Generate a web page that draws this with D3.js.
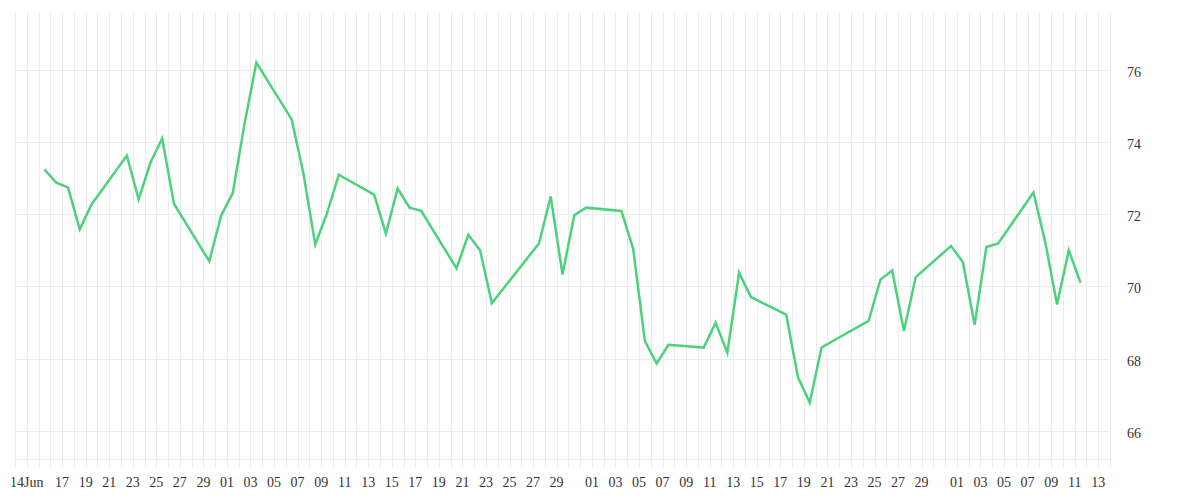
<!DOCTYPE html>
<html>
<head>
<meta charset="utf-8">
<script src="https://cdn.jsdelivr.net/npm/d3@7"></script>
<style>
  html, body { margin: 0; padding: 0; background: #fff; }
  svg { display: block; }
  text { font-family: "Liberation Serif", "Times New Roman", serif; font-size: 14px; fill: #333; }
</style>
</head>
<body>
<svg id="chart" width="1200" height="500"></svg>
<script>
// ---- data ----
const dates = [
  "2020-06-15","2020-06-16","2020-06-17","2020-06-18","2020-06-19",
  "2020-06-22","2020-06-23","2020-06-24","2020-06-25","2020-06-26",
  "2020-06-29","2020-06-30","2020-07-01","2020-07-02","2020-07-03",
  "2020-07-06","2020-07-07","2020-07-08","2020-07-09","2020-07-10",
  "2020-07-13","2020-07-14","2020-07-15","2020-07-16","2020-07-17",
  "2020-07-20","2020-07-21","2020-07-22","2020-07-23","2020-07-24",
  "2020-07-27","2020-07-28","2020-07-29","2020-07-30","2020-07-31",
  "2020-08-03","2020-08-04","2020-08-05","2020-08-06","2020-08-07",
  "2020-08-10","2020-08-11","2020-08-12","2020-08-13","2020-08-14",
  "2020-08-17","2020-08-18","2020-08-19","2020-08-20","2020-08-21",
  "2020-08-24","2020-08-25","2020-08-26","2020-08-27","2020-08-28",
  "2020-08-31","2020-09-01","2020-09-02","2020-09-03","2020-09-04",
  "2020-09-07","2020-09-08","2020-09-09","2020-09-10","2020-09-11"
];
const values = [
  73.24, 72.87, 72.74, 71.58, 72.27,
  73.62, 72.41, 73.42, 74.09, 72.29,
  70.70, 71.95, 72.59, 74.51, 76.19,
  74.62, 73.12, 71.16, 72.02, 73.09,
  72.54, 71.46, 72.71, 72.18, 72.09,
  70.50, 71.43, 71.00, 69.54, 69.95,
  71.19, 72.49, 70.33, 71.97, 72.18,
  72.09, 71.05, 68.49, 67.87, 68.39,
  68.31, 69.00, 68.17, 70.38, 69.71,
  69.22, 67.49, 66.79, 68.31, 68.50,
  69.05, 70.19, 70.44, 68.77, 70.26,
  71.12, 70.68, 68.94, 71.09, 71.19,
  72.60, 71.23, 69.50, 71.00, 70.10
];
const xDomain = ["2020-06-13", "2020-09-14"];
const yDomain = [65.23, 77.59];
const yTicks = [66, 68, 70, 72, 74, 76];
const xTickDates = [
  "2020-06-14","2020-06-17","2020-06-19","2020-06-21","2020-06-23","2020-06-25","2020-06-27","2020-06-29",
  "2020-07-01","2020-07-03","2020-07-05","2020-07-07","2020-07-09","2020-07-11","2020-07-13","2020-07-15",
  "2020-07-17","2020-07-19","2020-07-21","2020-07-23","2020-07-25","2020-07-27","2020-07-29",
  "2020-08-01","2020-08-03","2020-08-05","2020-08-07","2020-08-09","2020-08-11","2020-08-13","2020-08-15",
  "2020-08-17","2020-08-19","2020-08-21","2020-08-23","2020-08-25","2020-08-27","2020-08-29",
  "2020-09-01","2020-09-03","2020-09-05","2020-09-07","2020-09-09","2020-09-11","2020-09-13"
];
const xTickLabels = [
  "14Jun","17","19","21","23","25","27","29",
  "01","03","05","07","09","11","13","15",
  "17","19","21","23","25","27","29",
  "01","03","05","07","09","11","13","15",
  "17","19","21","23","25","27","29",
  "01","03","05","07","09","11","13"
];

// ---- drawing ----
(function () {
const parse = d3.timeParse("%Y-%m-%d");
const pLeft = 15, pRight = 1110, pTop = 12, pBottom = 459;

const x = d3.scaleTime().domain(xDomain.map(parse)).range([pLeft, pRight]);
const y = d3.scaleLinear().domain(yDomain).range([pBottom, pTop]);

const svg = d3.select("#chart");
const grid = svg.append("g").attr("stroke", "#ececec").attr("stroke-width", 1).attr("shape-rendering", "crispEdges");

// daily vertical grid lines (extend below plot as ticks)
const days = d3.timeDay.range(parse(xDomain[0]), d3.timeDay.offset(parse(xDomain[1]), 1));
grid.selectAll("line.v").data(days).join("line")
  .attr("class", "v")
  .attr("x1", d => Math.round(x(d)) + 0.5).attr("x2", d => Math.round(x(d)) + 0.5)
  .attr("y1", pTop).attr("y2", pBottom + 9);

// horizontal grid lines
grid.selectAll("line.h").data(yTicks).join("line")
  .attr("class", "h")
  .attr("x1", pLeft).attr("x2", pRight)
  .attr("y1", d => Math.round(y(d)) + 0.5).attr("y2", d => Math.round(y(d)) + 0.5);

// bottom axis line
grid.append("line").attr("x1", pLeft).attr("x2", pRight)
  .attr("y1", pBottom + 0.5).attr("y2", pBottom + 0.5);

// y labels on right
svg.append("g").selectAll("text").data(yTicks).join("text")
  .attr("x", 1127).attr("y", d => y(d)).attr("dy", "0.5em")
  .attr("text-anchor", "start")
  .text(d => d);

// x labels
svg.append("g").selectAll("text").data(xTickDates).join("text")
  .attr("x", d => x(parse(d))).attr("y", 487)
  .attr("text-anchor", "middle")
  .text((d, i) => xTickLabels[i]);

// line
const pts = dates.map((d, i) => ({ t: d3.timeHour.offset(parse(d), 12), v: values[i] }));
const line = d3.line().x(d => x(d.t)).y(d => y(d.v));
svg.append("path").datum(pts)
  .attr("d", line)
  .attr("fill", "none")
  .attr("stroke", "#4cd27b")
  .attr("stroke-width", 2.5)
  .attr("stroke-linejoin", "miter");
})();
</script>
</body>
</html>
